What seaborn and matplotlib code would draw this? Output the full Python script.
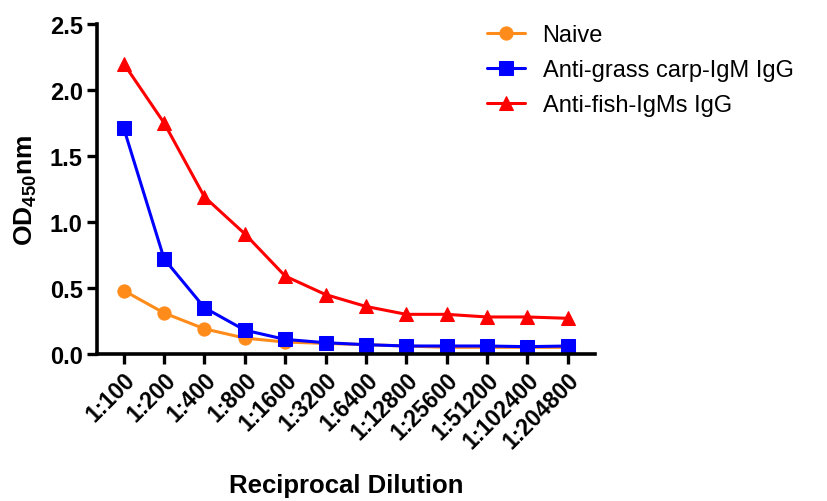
import pandas as pd
import numpy as np
import seaborn as sns
import matplotlib.pyplot as plt

sns.set_style("ticks")
plt.rcParams['font.family'] = ['Liberation Sans', 'DejaVu Sans']
plt.rcParams['mathtext.fontset'] = 'custom'
plt.rcParams['mathtext.rm'] = 'Liberation Sans'
plt.rcParams['mathtext.bf'] = 'Liberation Sans:bold'
plt.rcParams['text.color'] = 'black'
plt.rcParams['axes.labelcolor'] = 'black'
plt.rcParams['xtick.color'] = 'black'
plt.rcParams['ytick.color'] = 'black'

# data
dilutions = ['1:100', '1:200', '1:400', '1:800', '1:1600', '1:3200', '1:6400',
             '1:12800', '1:25600', '1:51200', '1:102400', '1:204800']
naive = [0.48, 0.31, 0.19, 0.12, 0.09, 0.08, 0.07, 0.06, 0.05, 0.05, 0.05, 0.05]
grass_carp = [1.71, 0.72, 0.35, 0.18, 0.11, 0.085, 0.07, 0.06, 0.06, 0.06, 0.055, 0.06]
fish_igms = [2.20, 1.75, 1.19, 0.91, 0.59, 0.45, 0.36, 0.30, 0.30, 0.28, 0.28, 0.27]

series = ['Naive', 'Anti-grass carp-IgM IgG', 'Anti-fish-IgMs IgG']
colors = ['#ff8c1a', '#0000ff', '#ff0000']
markers = ['o', 's', '^']

frames = []
for name, vals in zip(series, [naive, grass_carp, fish_igms]):
    frames.append(pd.DataFrame({'idx': np.arange(len(dilutions)), 'od': vals, 'group': name}))
df = pd.concat(frames, ignore_index=True)

fig = plt.figure(figsize=(8.27, 5.02), dpi=100)
ax = fig.add_axes([0.117, 0.293, 0.603, 0.657])

for name, c, m in zip(series, colors, markers):
    sub = df[df['group'] == name]
    sns.lineplot(data=sub, x='idx', y='od', color=c, marker=m, markersize=9.5,
                 markeredgecolor=c, linewidth=2.2, label=name, ax=ax)

ax.set_xlim(-0.67, 11.69)
ax.set_ylim(0, 2.5)
ax.set_xticks(np.arange(len(dilutions)))
ax.set_xticklabels(dilutions, rotation=45, ha='right', rotation_mode='anchor',
                   fontsize=16.5, fontweight='bold')
ax.set_yticks([0, 0.5, 1.0, 1.5, 2.0, 2.5])
ax.set_yticklabels(['0.0', '0.5', '1.0', '1.5', '2.0', '2.5'], fontsize=17, fontweight='bold')
ax.tick_params(width=2.4, length=7, pad=3)

ax.set_xlabel('Reciprocal Dilution', fontsize=18.5, fontweight='bold', labelpad=15)
ax.set_ylabel('OD$_{\\mathbf{450}}$nm', fontsize=19, fontweight='bold', labelpad=8)

sns.despine(ax=ax)
for s in ['left', 'bottom']:
    ax.spines[s].set_linewidth(2.6)
    ax.spines[s].set_color('black')

ax.legend(loc='upper left', bbox_to_anchor=(0.589, 0.95), bbox_transform=fig.transFigure,
          frameon=False, fontsize=17, borderpad=0, borderaxespad=0,
          handlelength=1.6, handletextpad=0.75, labelspacing=0.55)

fig.savefig('out.png', dpi=100)
